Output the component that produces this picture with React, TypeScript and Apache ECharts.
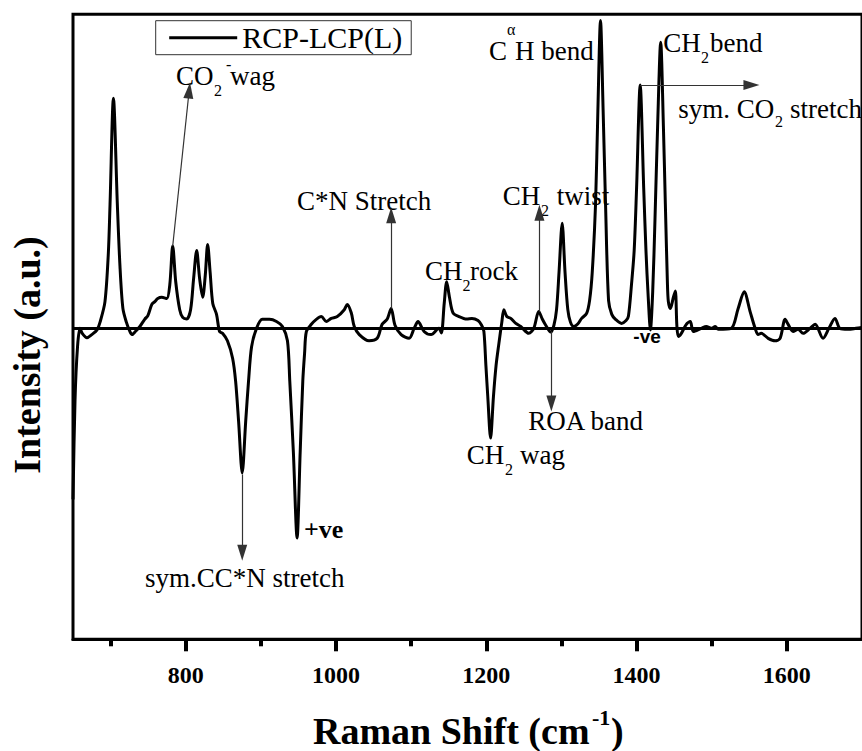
import React, { useEffect, useRef } from "react";
import * as echarts from "echarts";

// Raman shift (cm^-1)
const ramanShift = [
  650, 652.7, 656, 659.3, 662, 668.6, 675, 682, 686, 692.5, 697, 699.3, 703.8, 709, 712.5, 716.4, 721, 725.7, 728.5, 733,
  739, 745.6, 749.5, 754.9, 758.9, 762.8, 768.1, 774.8, 778.8, 782.7, 786.7, 792, 796, 801.3, 806.5, 810.5, 814.6, 818.5,
  822.6, 826, 829.2, 832.5, 836, 841, 845, 849, 855.5, 862.4, 866.4, 870.4, 875.2, 879.8, 883.6, 887.6, 894.2, 902, 911.5,
  920.8, 928.7, 935.4, 938.5, 943.3, 948.2, 952.3, 955.8, 958.2, 960.6, 967.2, 973.8, 980.5, 987, 993.7, 1001.7, 1011,
  1015, 1020.3, 1024.3, 1031, 1044, 1054.8, 1061.4, 1068, 1073.4, 1078.5, 1086.7, 1097.3, 1104, 1109.2, 1117.2, 1126.5,
  1137, 1140.2, 1144, 1147.3, 1151, 1155.7, 1163.6, 1174, 1180.9, 1189, 1193.8, 1196.8, 1199.5, 1202, 1205.7, 1209.5,
  1213, 1216.7, 1220.7, 1223.4, 1227.3, 1232.6, 1239.3, 1245.9, 1256.5, 1263.2, 1269.8, 1274.5, 1279.1, 1285.7, 1290,
  1293.5, 1296.8, 1301, 1304.8, 1308.5, 1312, 1316.2, 1322, 1326.9, 1333.5, 1337.5, 1341, 1345.4, 1348.5, 1352, 1355.5,
  1358.7, 1362.7, 1367, 1372, 1380, 1386, 1389.2, 1393.2, 1396.8, 1400, 1404.8, 1409.5, 1412.5, 1415.5, 1418.4, 1421.5,
  1424.5, 1428, 1432.1, 1435.7, 1438.3, 1441, 1442.3, 1445, 1449, 1451.6, 1453.6, 1455.6, 1459.6, 1466.2, 1471.5, 1475.5,
  1486.1, 1492.8, 1499.4, 1504.7, 1508.7, 1525.9, 1535.2, 1543.2, 1551.1, 1557.8, 1561.8, 1565.8, 1575.1, 1584.4, 1591,
  1597.7, 1601.7, 1608.3, 1615, 1621.6, 1630.9, 1637.6, 1648.2, 1656, 1664, 1670.7, 1681.3, 1691.9, 1700,
];

// RCP-LCP(L) intensity (a.u.)
const intensity = [
  -55, -23, -6, 0, -1.5, -3, -2, -0.5, 2, 8.5, 24, 40, 74, 40, 20, 6.4, 2, -1, -2, -1,
  0.6, 3, 4, 7.7, 8.6, 9.6, 10, 9.6, 14, 26.5, 15, 6, 3.5, 3, 6, 16, 25, 16,
  10, 17, 27, 18, 8, 4.5, -1, -1.6, -4, -9.6, -17, -30, -46.5, -30, -17, -6, 0, 2.9, 2.9,
  2.2, 0.6, -4, -17, -40, -67.4, -40, -17, -8, -1, 1.3, 2.9, 3.8, 2.2, 3.2, 3.8, 6,
  7.7, 5, 0.6, -2, -4, -3.2, 1.3, 2.9, 6.4, 1, -2, -3.2, 0, 2.2, -1, -2,
  0, -1.5, 8, 15, 10, 5, 3.8, 3, 3.2, 2.5, 1, -1, -12, -22, -35.3, -22,
  -12, -5, 2, 6, 3.8, 3.2, 1.6, 0.6, -1.6, 0, 5.4, 3, 1, -1.2, 1,
  6, 18, 33.8, 18, 6, 2, 0.6, 1.5, 3.2, 4.8, 9, 18, 40, 70, 99, 70,
  40, 9, 4.5, 2.9, 1.6, 2.5, 4, 14, 25, 45, 78.3, 45, 25, 10, -0.5, 12,
  35, 65, 92, 65, 40, 15, 8.6, 6.4, 10, 12, 1, -2.6, -1.6, 1.3, 2.2, -1,
  0, 0.6, 0, 0.6, -0.3, 0, 6.4, 11.8, 5.4, 0, -2, -1.6, -3.2, -4, -3.2,
  2.9, 1.3, -1, -0.3, -1.6, 0, 1.3, -3.2, 0, 3.2, 0, -0.3, 0, 0.3,
];

const majorTicks = [800, 1000, 1200, 1400, 1600];
const minorTicks = [700, 900, 1100, 1300, 1500];
const seriesName = "RCP-LCP(L)";
const baselineValue = 0;

// Annotation arrows: [from (x, y), to (x, y)] in data units
const arrowFrom = [
  [782.7, 26.5],
  [875.2, -47],
  [1073.4, 6.4],
  [1270.7, 5.4],
  [1286.6, -1],
  [1404.8, 78.3],
];
const arrowTo = [
  [804.6, 76.5],
  [875.2, -72.2],
  [1073.4, 36.4],
  [1270.7, 37.2],
  [1286.6, -24.2],
  [1552.9, 78.3],
];

const SERIF = "'Liberation Serif', 'Times New Roman', Times, serif";
const SANS = "'Liberation Sans', Arial, Helvetica, sans-serif";

type Piece = [string, number, number, number, string?, string?, number?];
// [text, left x, center y, fontSize, weight, family, lineHeight]
const annotationPieces: Piece[] = [
  ["CO", 176, 76, 27], ["2", 214, 90, 16], ["-", 226, 64, 16], ["wag", 230, 76, 27],
  ["C*N Stretch", 297, 201, 27],
  ["CH", 425, 271, 27], ["2", 462.5, 285, 16], ["rock", 470, 271, 27],
  ["CH", 502.7, 196, 27], ["2", 541, 210, 16], ["twist", 556.7, 196, 27],
  ["C", 489, 51, 27], ["\u03b1", 507, 29, 16], ["H bend", 515, 51, 27],
  ["CH", 663.3, 43, 27], ["2", 701, 57, 16], ["bend", 710, 43, 27],
  ["sym. CO", 678.3, 109, 27], ["2", 775, 121, 16], ["stretch", 790, 109, 27],
  ["ROA band", 528.3, 420.5, 27],
  ["CH", 466.7, 454.5, 27], ["2", 505, 469, 16], ["wag", 520, 454.5, 27],
  ["sym.CC*N stretch", 145, 578, 27],
  ["+ve", 304, 529.5, 26, "bold", SERIF],
  ["-ve", 633.3, 336.7, 19, "bold", SANS],
  ["Raman Shift (cm", 313, 731, 38, "bold", SERIF, 30],
  ["-1", 592, 717, 22, "bold", SERIF, 20],
  [")", 611, 731, 38, "bold", SERIF, 30],
];

export default function App() {
  const ref = useRef<HTMLDivElement>(null);

  useEffect(() => {
    if (!ref.current) return;
    const chart = echarts.init(ref.current, undefined, { renderer: "svg" });

    const data = ramanShift.map((x, i) => [x, intensity[i]]);
    const arrows = arrowFrom.map((f, i) => [{ coord: f }, { coord: arrowTo[i] }]);

    const texts: any[] = annotationPieces.map(([text, x, y, size, weight, family, lh]) => ({
      type: "text",
      x,
      y,
      silent: true,
      style: {
        text,
        fontSize: size,
        fontWeight: weight || "normal",
        fontFamily: family || SERIF,
        lineHeight: lh || undefined,
        fill: "#000",
        align: "left",
        verticalAlign: "middle",
        textAlign: "left",
        textVerticalAlign: "middle",
      },
    }));
    texts.push({
      type: "text",
      x: 26.5,
      y: 355,
      rotation: Math.PI / 2,
      silent: true,
      style: {
        text: "Intensity (a.u.)",
        fontSize: 38,
        fontWeight: "bold",
        fontFamily: SERIF,
        fill: "#000",
        align: "center",
        verticalAlign: "middle",
        textAlign: "center",
        textVerticalAlign: "middle",
      },
    });

    chart.setOption({
      animation: false,
      backgroundColor: "#fff",
      grid: {
        left: 73,
        right: -2,
        top: 14.3,
        bottom: 111.7,
        show: true,
        borderColor: "#000",
        borderWidth: 3,
        backgroundColor: "transparent",
      },
      legend: {
        show: true,
        left: 155.7,
        top: 20.7,
        icon: "rect",
        itemWidth: 68,
        itemHeight: 3,
        padding: [2, 9, 2, 13.5],
        borderColor: "#333",
        borderWidth: 1,
        textStyle: { fontFamily: SERIF, fontSize: 30, color: "#000" },
        data: [seriesName],
      },
      xAxis: [
        {
          type: "value",
          min: 650,
          max: 1700,
          position: "bottom",
          axisLine: { show: true, onZero: false, lineStyle: { color: "#000", width: 3 } },
          axisTick: {
            show: true,
            customValues: majorTicks,
            length: 12,
            lineStyle: { color: "#000", width: 4 },
          },
          axisLabel: {
            customValues: majorTicks,
            formatter: (v: number) => String(v),
            margin: 24,
            fontSize: 24,
            fontWeight: "bold",
            fontFamily: SERIF,
            color: "#000",
          },
          splitLine: { show: false },
        },
        {
          type: "value",
          min: 650,
          max: 1700,
          position: "bottom",
          axisLine: { show: false, onZero: false },
          axisTick: {
            show: true,
            customValues: minorTicks,
            length: 7,
            lineStyle: { color: "#000", width: 4 },
          },
          axisLabel: { show: false },
          splitLine: { show: false },
        },
      ],
      yAxis: {
        type: "value",
        min: -100,
        max: 101,
        axisLine: { show: false },
        axisTick: { show: false },
        axisLabel: { show: false },
        splitLine: { show: false },
      },
      series: [
        {
          type: "line",
          name: "baseline",
          data: [],
          xAxisIndex: 0,
          silent: true,
          symbol: "none",
          markLine: {
            silent: true,
            symbol: ["none", "none"],
            label: { show: false },
            emphasis: { disabled: true },
            lineStyle: { color: "#000", width: 3, type: "solid" },
            data: [{ yAxis: baselineValue }],
          },
        },
        {
          type: "line",
          name: seriesName,
          data,
          xAxisIndex: 0,
          symbol: "none",
          showSymbol: false,
          smooth: 0.3,
          silent: true,
          lineStyle: { color: "#000", width: 3 },
          itemStyle: { color: "#000" },
          markLine: {
            silent: true,
            symbol: ["none", "triangle"],
            symbolSize: [10, 16],
            label: { show: false },
            emphasis: { disabled: true },
            lineStyle: { color: "#333", width: 1.2, type: "solid" },
            data: arrows,
          },
        },
      ],
      graphic: { elements: texts },
    });

    return () => chart.dispose();
  }, []);

  return (
    <div
      ref={ref}
      style={{ position: "fixed", left: 0, top: 0, width: 862, height: 751, background: "#fff" }}
    />
  );
}
